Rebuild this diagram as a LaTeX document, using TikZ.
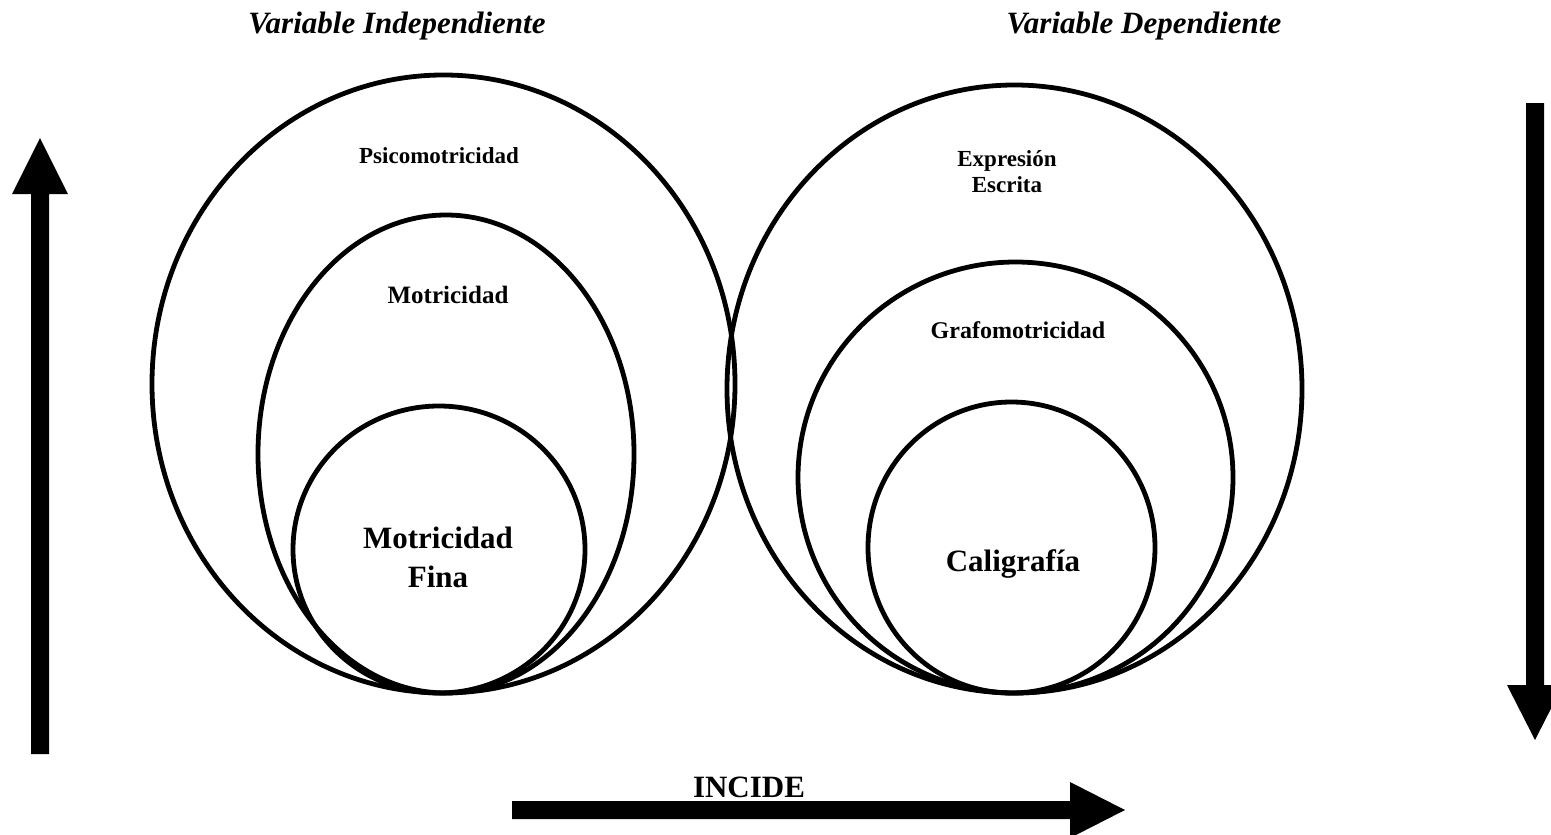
\documentclass[tikz,border=0pt]{standalone}
\usepackage{fontspec}
\setmainfont{Liberation Serif}
\begin{document}
\begin{tikzpicture}[x=1pt,y=-1pt,
  ring/.style={draw=black,line width=4.8pt},
  bigarrow/.style={fill=black,draw=none},
  title/.style={anchor=base,inner sep=0pt,font=\fontsize{31}{36}\selectfont\bfseries\itshape},
  small/.style={anchor=base,inner sep=0pt,font=\fontsize{23}{26}\selectfont\bfseries},
  large/.style={anchor=base,inner sep=0pt,font=\fontsize{31}{36}\selectfont\bfseries}]
\useasboundingbox (0,0) rectangle (1551,835);
\clip (0,0) rectangle (1551,835);
% ellipses left
\draw[ring] (443.5,384) ellipse [x radius=291.5, y radius=309];
\draw[ring] (446,454) ellipse [x radius=188, y radius=239];
\draw[ring] (439,549.5) ellipse [x radius=146, y radius=143.5];
% ellipses right
\draw[ring] (1014.5,389) ellipse [x radius=287.5, y radius=304];
\draw[ring] (1015.5,477.5) ellipse [x radius=217.5, y radius=215.5];
\draw[ring] (1011.5,547.5) ellipse [x radius=143.5, y radius=145.5];
% arrows
\fill[bigarrow] (31,754) -- (31,194) -- (12,194) -- (40,138) -- (68,194) -- (49,194) -- (49,754) -- cycle;
\fill[bigarrow] (1526,103) -- (1526,685) -- (1507,685) -- (1535,740) -- (1563,685) -- (1544,685) -- (1544,103) -- cycle;
\fill[bigarrow] (512,801) -- (1070,801) -- (1070,782) -- (1125,810) -- (1070,838) -- (1070,819) -- (512,819) -- cycle;
% texts
\node[title] (vi) at (397,33) {Variable Independiente};
\node[title] (vd) at (1144,33) {Variable Dependiente};
\node[small] (psi) at (439,163) {Psicomotricidad};
\node[small,font=\fontsize{25}{28}\selectfont\bfseries] (mot) at (448,303) {Motricidad};
\node[large] (mf1) at (438,548) {Motricidad};
\node[large] (mf2) at (438,587) {Fina};
\node[small] (ex1) at (1007,166) {Expresión};
\node[small] (ex2) at (1007,192) {Escrita};
\node[small,font=\fontsize{24}{27}\selectfont\bfseries] (gra) at (1018,338) {Grafomotricidad};
\node[large] (cal) at (1013,571) {Caligrafía};
\node[large] (inc) at (749,797) {INCIDE};
\end{tikzpicture}
\end{document}
